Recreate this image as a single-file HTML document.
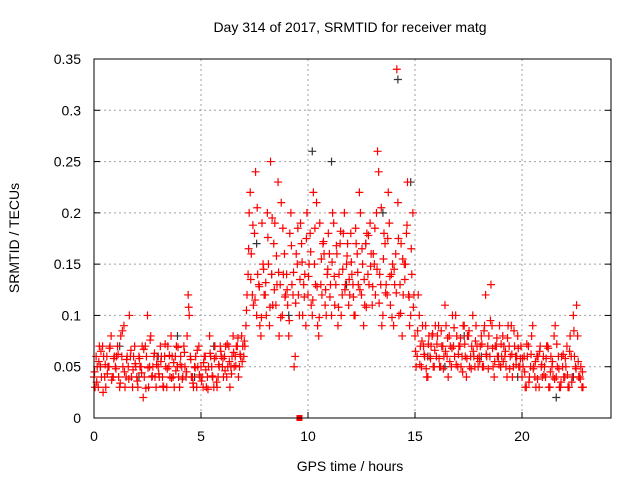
<!DOCTYPE html>
<html><head><meta charset="utf-8"><style>
body{margin:0;background:#fff;}
svg{display:block;font-family:"Liberation Sans",sans-serif;}
</style></head><body>
<svg id="c" width="640" height="480">
<text x="350" y="32" font-size="14" text-anchor="middle">Day 314 of 2017, SRMTID for receiver matg</text>
<text x="350" y="471" font-size="14" text-anchor="middle">GPS time / hours</text>
<text transform="translate(19,238) rotate(-90)" font-size="14" text-anchor="middle">SRMTID / TECUs</text>
<g id="grid"></g><g id="marks"></g>
<rect x="94" y="59" width="517" height="359" fill="none" stroke="#000" stroke-width="1"/>
</svg>
<script>
const xTicks=[0,5,10,15,20];
const yTicks=[0,0.05,0.1,0.15,0.2,0.25,0.3,0.35];
const yTickLabels=["0","0.05","0.1","0.15","0.2","0.25","0.3","0.35"];
const redA=[.04,.06,.03,.05,.07,.04,.06,.05,.08,.04,
.05,.07,.03,.06,.09,.04,.05,.06,.03,.07,
.04,.06,.05,.02,.07,.1,.05,.04,.06,.03,
.05,.07,.04,.06,.03,.05,.08,.04,.06,.05,
.03,.05,.07,.04,.12,.06,.04,.05,.03,.07,
.05,.03,.06,.04,.08,.05,.03,.06,.04,.07,
.05,.06,.04,.07,.05,.08,.06,.07,.05,.08,
.06,.09,.14,.22,.12,.18,.1,.13,.08,.15,
.12,.2,.09,.14,.17,.11,.23,.13,.1,.16,
.14,.08,.2,.12,.06,.15,.1,.17,.13,.09,
.12,.18,.1,.15,.21,.08,.13,.17,.11,.14,
.16,.1,.19,.13,.09,.17,.12,.2,.15,.11,
.18,.13,.1,.16,.22,.12,.09,.17,.14,.19,
.11,.15,.2,.24,.13,.1,.17,.12,.19,.14,
.09,.16,.21,.13,.08,.15,.18,.12,.1,.2,
.08,.06,.1,.05,.07,.09,.04,.06,.08,.05,
.06,.09,.05,.07,.11,.06,.08,.05,.07,.1,
.05,.07,.06,.09,.04,.08,.06,.1,.05,.07,
.06,.08,.05,.12,.07,.06,.09,.04,.07,.06,
.05,.08,.06,.04,.07,.09,.05,.06,.08,.05,
.04,.06,.03,.07,.05,.09,.04,.06,.03,.05,
.06,.04,.07,.03,.05,.08,.04,.06,.03,.05,
.04,.07,.03,.06,.1,.05,.08,.04,.03];
const redB=[.03,.05,.07,.04,.06,.03,.05,.07,.04,.06,
.06,.04,.08,.05,.03,.06,.1,.04,.06,.05,
.03,.05,.07,.04,.06,.03,.08,.05,.04,.06,
.04,.06,.03,.05,.07,.04,.06,.03,.07,.04,
.06,.04,.05,.08,.1,.04,.03,.06,.05,.04,
.04,.06,.03,.05,.06,.04,.07,.03,.05,.06,
.04,.07,.05,.03,.06,.05,.07,.04,.06,.07,
.07,.12,.2,.16,.11,.24,.14,.09,.19,.12,
.1,.15,.25,.11,.19,.13,.08,.21,.14,.12,
.11,.18,.13,.05,.16,.12,.19,.1,.14,.2,
.15,.11,.22,.13,.09,.19,.12,.16,.1,.18,
.13,.2,.11,.16,.14,.1,.18,.13,.17,.12,
.14,.1,.17,.13,.2,.15,.11,.18,.13,.16,
.16,.12,.26,.14,.09,.18,.13,.22,.11,.15,
.13,.34,.1,.17,.12,.15,.23,.09,.14,.12,
.05,.12,.07,.09,.06,.04,.08,.07,.05,.09,
.08,.05,.07,.06,.09,.04,.07,.1,.06,.08,
.07,.05,.09,.06,.08,.05,.07,.06,.09,.05,
.07,.05,.09,.06,.08,.13,.05,.07,.06,.09,
.06,.07,.05,.09,.06,.04,.07,.06,.05,.07,
.05,.03,.06,.04,.08,.05,.03,.06,.07,.04,
.05,.07,.03,.06,.04,.09,.05,.03,.06,.04,
.05,.03,.08,.04,.06,.11,.04,.05,.03];
const redC=[.045,.035,.055,.065,.025,.052,.043,.068,.037,.058,
.048,.062,.034,.085,.045,.057,.038,.066,.047,.053,
.036,.058,.044,.067,.029,.049,.076,.041,.063,.052,
.043,.055,.031,.072,.048,.061,.039,.054,.046,.069,
.052,.038,.064,.045,.108,.057,.034,.049,.066,.042,
.036,.054,.047,.028,.063,.041,.058,.035,.052,.065,
.058,.046,.072,.055,.043,.064,.051,.078,.062,.055,
.075,.105,.165,.135,.188,.115,.205,.128,.098,.145,
.132,.176,.108,.195,.125,.158,.142,.098,.185,.118,
.125,.095,.168,.142,.112,.185,.135,.152,.118,.175,
.138,.162,.115,.185,.128,.098,.155,.172,.125,.145,
.118,.152,.138,.168,.108,.182,.145,.125,.158,.135,
.152,.118,.185,.142,.125,.165,.135,.108,.178,.148,
.128,.185,.145,.112,.205,.155,.122,.175,.138,.098,
.145,.122,.175,.102,.155,.135,.188,.118,.165,.108,
.065,.085,.052,.075,.062,.048,.072,.058,.082,.066,
.072,.058,.085,.048,.065,.078,.055,.068,.088,.052,
.062,.078,.045,.072,.058,.085,.048,.065,.075,.058,
.055,.072,.085,.062,.048,.095,.068,.055,.078,.052,
.072,.055,.065,.078,.048,.062,.085,.052,.068,.058,
.058,.045,.072,.035,.062,.048,.055,.038,.065,.052,
.042,.058,.068,.045,.055,.038,.072,.048,.035,.062,
.058,.042,.065,.035,.085,.048,.055,.038,.045];
const blackT=[0.3,1.2,2.1,3.0,3.9,4.7,5.6,6.4,7.6,8.3,9.1,10.2,11.1,11.8,12.7,13.5,14.2,14.8,15.6,16.4,17.3,18.1,19.0,19.8,20.7,21.6,22.4];
const blackV=[.05,.07,.04,.06,.08,.04,.07,.05,.17,.14,.1,.26,.25,.13,.17,.2,.33,.23,.06,.05,.08,.06,.05,.04,.06,.02,.04];
const markerT=[9.6];
const markerV=[0];
const NS="http://www.w3.org/2000/svg";
const X=v=>94+v*21.4, Y=v=>418-v*(359/0.35);
const grid=document.getElementById('grid'), marks=document.getElementById('marks');
function mk(tag,at,parent){const e=document.createElementNS(NS,tag);for(const k in at)e.setAttribute(k,at[k]);parent.appendChild(e);return e;}
xTicks.forEach(t=>{
 if(t>0){const g=mk('line',{x1:X(t),x2:X(t),y1:59,y2:418,stroke:'#a0a0a0','stroke-dasharray':'2,3'},grid);
 
 }
 mk('line',{x1:X(t),x2:X(t),y1:418,y2:412,stroke:'#000'},grid);
 const l=mk('text',{x:X(t),y:441,'font-size':14,'text-anchor':'middle'},grid);l.textContent=t;
 
 
});
yTicks.forEach((t,i)=>{
 if(t>0&&t<0.35){const g=mk('line',{x1:94,x2:611,y1:Y(t),y2:Y(t),stroke:'#a0a0a0','stroke-dasharray':'2,3'},grid);
 
 }
 mk('line',{x1:94,x2:100,y1:Y(t),y2:Y(t),stroke:'#000'},grid);
 mk('line',{x1:611,x2:605,y1:Y(t),y2:Y(t),stroke:'#000'},grid);
 const l=mk('text',{x:81,y:Y(t)+5,'font-size':14,'text-anchor':'end'},grid);l.textContent=yTickLabels[i];
 
 
});
function plus(t,v,col,name){
 const x=X(t),y=Y(v);
 const p=mk('path',{d:`M${x-4},${y}h8M${x},${y-4}v8`,stroke:col,'stroke-width':1.2,fill:'none'},marks);
 
 
}
blackT.forEach((t,i)=>plus(t,blackV[i],'#333','black-point'));
redA.forEach((v,i)=>plus(i*0.1,v,'#f00','red-point'));
redB.forEach((v,i)=>plus(i*0.1+0.05,v,'#f00','red-point'));
redC.forEach((v,i)=>plus(i*0.1+0.025,v,'#f00','red-point'));
markerT.forEach((t,i)=>{const r=mk('rect',{x:X(t)-3,y:Y(markerV[i])-3,width:6,height:6,fill:'#f00'},marks);

});
</script>
</body></html>
